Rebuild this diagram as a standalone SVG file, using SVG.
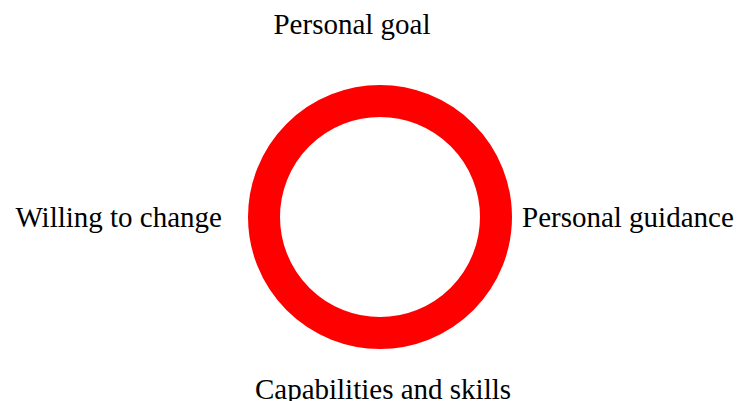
<svg xmlns="http://www.w3.org/2000/svg" width="739" height="401" viewBox="0 0 739 401">
  <style>
    .label { font-family: "Liberation Serif", "Times New Roman", serif; font-size: 29px; fill: #000; }
    .ring { fill: none; stroke: #ff0000; stroke-width: 32; }
  </style>
  <rect width="739" height="401" fill="#ffffff"/>
  <g id="ring">
    <circle class="ring" cx="380" cy="217" r="116"/>
  </g>
  <g id="connectors"></g>
  <g id="personal-goal">
    <text class="label" x="352" y="34" text-anchor="middle">Personal goal</text>
  </g>
  <g id="willing-to-change">
    <text class="label" x="222" y="227" text-anchor="end">Willing to change</text>
  </g>
  <g id="personal-guidance">
    <text class="label" x="522" y="227" text-anchor="start">Personal guidance</text>
  </g>
  <g id="capabilities-and-skills">
    <text class="label" x="383" y="399" text-anchor="middle">Capabilities and skills</text>
  </g>
</svg>
